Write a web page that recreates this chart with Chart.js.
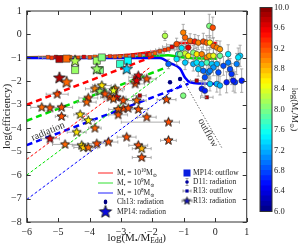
<!DOCTYPE html>
<html><head><meta charset="utf-8">
<script src="https://cdn.jsdelivr.net/npm/chart.js@4"></script>
<style>
html,body{margin:0;padding:0;background:#fff;}
#wrap{position:relative;width:299px;height:249px;overflow:hidden;}
#main{position:absolute;left:0;top:0;}
#cbar{position:absolute;left:250px;top:0;}
</style></head><body>
<div id="wrap"><canvas id="main" width="299" height="249"></canvas><canvas id="cbar" width="49" height="249"></canvas></div>
<script>
// ---------- tick labels ----------
const xTicks = [-6,-5,-4,-3,-2,-1,0,1];
const yTicks = [1,0,-1,-2,-3,-4,-5,-6,-7,-8];
const cbTicks = [6.0,6.4,6.8,7.2,7.6,8.0,8.4,8.8,9.2,9.6,10.0];

// ---------- model curves ----------
const red10_x = [-6,-3.67,-2.4,-1.55,-1.28,-1.18,0.06];
const red10_y = [-0.97,-0.94,-0.81,-0.63,-0.49,-0.37,-0.37];
const green9_x = [-6,-2.5,-2.0,-1.5,-1.2,-0.8,0.06];
const green9_y = [-0.99,-0.97,-0.92,-0.89,-0.95,-1.0,-1.04];
const blue8_x = [-6,-1.76,-1.44,-1.12,-0.96,-0.8,-0.48,0.06];
const blue8_y = [-1.0,-1.0,-1.22,-1.46,-1.85,-2.04,-2.09,-2.1];
const redThick_x = [-6,-1.9];   const redThick_y = [-3.0,-0.9];
const greenThick_x = [-6,-1.6]; const greenThick_y = [-3.68,-1.43];
const blueThick_x = [-6,-0.85]; const blueThick_y = [-4.72,-2.1];
const redThin_x = [-6,-2.1];    const redThin_y = [-5.33,-1.43];
const greenThin_x = [-6,-1.6];  const greenThin_y = [-6.0,-1.6];
const blueThin_x = [-6,-1.1];   const blueThin_y = [-7.04,-2.14];
const outflow_x = [-1.0,0.22];  const outflow_y = [-2.0,-4.86];

// ---------- R13 radiation (stars, x errors) ----------
const r13r_x = [-5.03,-5.52,-5.26,-4.89,-4.89,-4.30,-4.04,-3.83,-3.83,-3.61,-3.67,-4.04,-4.09,-3.35,-3.19,-3.14,-2.93,-2.55,-2.18,-2.45,-2.93,-2.50,-2.77,-2.45,-3.09,-3.09,-2.18,-1.49,-1.55,-5.26,-4.78,-4.41,-4.25,-4.20,-4.04,-3.77,-3.40,-2.45,-2.34,-2.34,-1.49,-2.82,-3.51,-3.24,-3.24,-2.50];
const r13r_y = [-2.55,-3.11,-3.13,-3.11,-3.50,-3.42,-3.67,-4.00,-2.32,-2.18,-2.43,-2.71,-2.89,-2.68,-2.32,-2.68,-2.82,-2.11,-1.90,-1.76,-3.17,-2.82,-3.15,-3.20,-3.20,-3.43,-3.53,-3.74,-2.78,-4.45,-4.69,-4.17,-4.73,-4.82,-4.83,-4.66,-4.59,-4.73,-4.87,-5.25,-4.52,-4.38,-2.54,-2.40,-2.75,-1.97];
const r13r_m = [9.2,9.1,9.2,9.2,9.2,8.6,8.5,9.1,9.0,8.6,8.1,9.2,9.1,9.2,9.1,9.5,9.2,9.2,9.2,9.5,9.2,9.1,9.2,9.2,9.1,9.2,9.2,9.2,9.2,9.6,9.1,8.6,8.6,8.7,9.1,9.2,9.2,9.2,8.8,9.2,9.2,9.2,9.2,8.4,9.1,9.6];
const r13r_elo = [0.35,0.35,0.3,0.35,0.2,0.2,0.2,0.2,0.3,0.3,0.3,0.3,0.3,0.3,0.3,0.3,0.3,0.3,0.3,0.2,0.3,0.3,0.3,0.3,0.3,0.3,0.3,1.5,0.3,0.3,0.4,0.3,0.3,0.3,0.3,0.3,0.3,0.3,0.3,0.3,0.25,0.3,0.3,0.3,0.3,0.25];
const r13r_ehi = [0.35,0.35,0.3,0.35,0.2,0.2,0.2,0.2,0.3,0.3,0.3,0.3,0.3,0.3,0.3,0.3,0.3,0.3,0.3,0.2,0.3,0.3,0.3,0.3,0.3,0.3,0.3,0.35,0.3,0.3,0.4,0.3,0.3,0.3,0.3,0.3,0.3,0.3,0.3,0.3,0.25,0.3,0.3,0.3,0.3,0.25];

// ---------- MP14 radiation (big stars) ----------
const mp14r_x = [-4.96,-4.73,-4.46,-3.77,-2.82];
const mp14r_y = [-1.86,-2.04,-1.14,-1.48,-1.48];
const mp14r_m = [9.8,9.1,8.2,8.1,7.3];

// ---------- MP14 outflow (squares) ----------
const mp14o_x = [-4.96,-4.73,-4.46,-3.77,-3.61,-3.67,-3.03,-2.78];
const mp14o_y = [-1.05,-1.03,-1.52,-1.12,-0.98,-1.52,-1.26,-1.12];
const mp14o_m = [9.8,9.1,8.1,8.1,8.0,8.0,7.7,7.5];

// ---------- R13 outflow (small squares, x errors) ----------
const r13o_x = [-5.32,-5.20,-5.07,-4.88,-4.62,-4.37,-4.18,-3.99,-3.83,-3.54,-3.35,-3.19,-3.03,-2.84,-2.62,-2.40,-2.17,-2.08,-1.92,-1.76,-1.60,-1.49,-1.38,-1.25,-2.55,-2.40,-0.59,-0.27];
const r13o_y = [-0.97,-1.0,-0.96,-0.99,-0.97,-1.0,-0.96,-0.98,-0.95,-0.97,-0.93,-0.95,-0.94,-0.92,-0.9,-0.88,-0.86,-0.85,-0.8,-0.72,-0.66,-0.62,-0.53,-0.44,-1.83,-2.61,-1.97,-2.68];
const r13o_m = [9.2,9.3,9.6,9.2,9.1,9.2,9.6,9.2,9.1,9.2,9.3,9.2,9.1,9.2,9.3,9.2,9.6,9.2,9.1,9.2,9.3,9.2,9.6,9.2,9.8,9.8,9.8,9.8];
const r13o_e = [0.3,0.3,0.3,0.3,0.3,0.3,0.3,0.3,0.3,0.3,0.3,0.3,0.3,0.3,0.3,0.3,0.3,0.3,0.3,0.3,0.3,0.3,0.3,0.3,0.2,0.2,0.2,0.2];

// ---------- D11 radiation (circles, y errors) ----------
const d11_x = [-0.19,-0.08,-0.96,-1.23,-0.80,-0.65,-0.54,-0.38,-0.27,-0.17,-0.06,0.05,0.15,-1.18,-0.96,-0.86,-0.70,-0.59,-0.43,-0.27,-0.19,-0.06,0.15,0.41,0.79,-0.96,-0.70,-0.59,-0.43,-0.27,-0.11,0.05,0.26,0.47,0.68,-0.54,-0.38,-0.22,-0.06,0.10,0.52,0.63,0.84,-0.33,0.05,0.15,-1.07,-1.02,-1.60,0.73,0.41,0.36,0.57,-0.43,-0.33,-0.17,-1.49,-1.23,-1.12,-0.17,-1.02,-0.86];
const d11_y = [0.36,0.29,-0.13,-0.41,-0.27,-0.30,-0.35,-0.30,-0.35,-0.35,-0.49,-0.56,-0.63,-0.84,-0.81,-0.91,-0.77,-0.84,-0.84,-0.98,-0.91,-0.91,-0.91,-0.84,-0.91,-1.20,-1.26,-1.20,-1.26,-1.20,-1.26,-1.26,-1.34,-1.48,-1.26,-1.48,-1.55,-1.62,-1.41,-1.62,-1.69,-2.04,-1.97,-1.83,-2.11,-2.18,-0.58,0.08,-0.06,-0.98,-1.20,-2.04,-1.97,-2.32,-2.40,-2.11,-1.26,-1.05,-0.84,-1.55,-2.61,-0.56];
const d11_m = [8.0,9.2,9.1,9.2,9.1,9.4,9.0,9.2,9.1,8.5,9.1,9.0,8.9,7.6,8.3,8.5,8.0,8.6,9.0,9.0,8.8,8.4,7.9,7.4,7.3,7.3,7.2,7.4,7.3,7.8,7.3,7.2,6.8,6.8,7.0,7.3,6.9,7.0,7.1,6.8,6.7,6.7,6.6,6.8,7.2,7.2,7.4,9.0,8.2,7.4,7.0,6.6,6.6,6.6,6.6,7.3,6.9,7.4,8.0,7.0,8.0,9.6];
const d11_e = [0.5,0.45,0.3,0.25,0.3,0.3,0.3,0.35,0.3,0.3,0.35,0.3,0.35,0.3,0.3,0.3,0.3,0.3,0.3,0.3,0.35,0.35,0.4,0.4,0.45,0.3,0.3,0.3,0.35,0.3,0.35,0.35,0.4,0.45,0.45,0.3,0.35,0.35,0.35,0.4,0.45,0.45,0.5,0.3,0.35,0.4,0.25,0.35,0.2,0.4,0.4,0.45,0.45,0.3,0.3,0.3,0.2,0.25,0.25,0.35,0.1,0.3];

// ---------- Ch13 radiation ----------
const ch13_x = [-1.44,-1.12];
const ch13_y = [-2.04,-1.90];

// ================= helpers =================
const FONT = '"Liberation Serif","DejaVu Serif",serif';
function jet(v){
  const t = Math.min(1, Math.max(0, (v-6)/4));
  const f = a => Math.round(255*Math.min(1, Math.max(0, 1.5-Math.abs(4*t-a))));
  return `rgb(${f(3)},${f(2)},${f(1)})`;
}
function pts(xs, ys){ return xs.map((x,i)=>({x, y: ys[i]})); }
const starCache = {};
function starImg(color, R){
  const key = color+'_'+R;
  if (starCache[key]) return starCache[key];
  const s = Math.ceil(R*2+3);
  const c = document.createElement('canvas'); c.width = c.height = s;
  const g = c.getContext('2d');
  const cx = s/2, cy = s/2, r = R*0.42;
  g.beginPath();
  for (let k=0;k<10;k++){
    const a = -Math.PI/2 + k*Math.PI/5, rr = (k%2) ? r : R;
    g.lineTo(cx+rr*Math.cos(a), cy+rr*Math.sin(a));
  }
  g.closePath(); g.fillStyle = color; g.fill();
  g.lineWidth = 0.9; g.strokeStyle = '#1a1a1a'; g.stroke();
  starCache[key] = c; return c;
}
function rich(ctx, parts, x, y, size, align, color){
  const seg = parts.map(([t,k]) => {
    const fs = k ? size*0.68 : size;
    ctx.font = `${fs}px ${FONT}`;
    return {t, k, fs, w: ctx.measureText(t).width};
  });
  const W = seg.reduce((a,s)=>a+s.w, 0);
  let cx = align==='center' ? x-W/2 : (align==='right' ? x-W : x);
  ctx.textBaseline = 'middle'; ctx.textAlign = 'left'; ctx.fillStyle = color || '#222';
  seg.forEach(s => {
    ctx.font = `${s.fs}px ${FONT}`;
    const dy = s.k==='sub' ? size*0.3 : (s.k==='sup' ? -size*0.32 : 0);
    ctx.fillText(s.t, cx, y+dy);
    cx += s.w;
  });
}
const fmt = v => v < 0 ? '\u2212' + Math.abs(v) : '' + v;

function lineDS(xs, ys, color, width, dash, order, smooth){
  return {type:'scatter', data: pts(xs, ys), showLine:true, borderColor:color, borderWidth:width,
    borderDash: dash, pointRadius:0, fill:false, order,
    tension: smooth ? 0.4 : 0, cubicInterpolationMode: smooth ? 'monotone' : 'default'};
}

// ================= plugins =================
const errorBars = {
  id:'errorBars',
  beforeDatasetDraw(chart, args){
    const ds = chart.data.datasets[args.index];
    if (!ds.err) return;
    const {ctx, chartArea:a, scales:{x, y}} = chart;
    ctx.save();
    ctx.beginPath(); ctx.rect(a.left, a.top, a.right-a.left, a.bottom-a.top); ctx.clip();
    ctx.strokeStyle = '#999'; ctx.lineWidth = 0.8;
    const cap = 1.6;
    ds.data.forEach((p,i) => {
      const px = x.getPixelForValue(p.x), py = y.getPixelForValue(p.y);
      ctx.beginPath();
      if (ds.err.dir === 'x'){
        const x0 = x.getPixelForValue(p.x - ds.err.lo[i]), x1 = x.getPixelForValue(p.x + ds.err.hi[i]);
        ctx.moveTo(x0, py); ctx.lineTo(x1, py);
        ctx.moveTo(x0, py-cap); ctx.lineTo(x0, py+cap);
        ctx.moveTo(x1, py-cap); ctx.lineTo(x1, py+cap);
      } else {
        const y0 = y.getPixelForValue(p.y - ds.err.lo[i]), y1 = y.getPixelForValue(p.y + ds.err.hi[i]);
        ctx.moveTo(px, y0); ctx.lineTo(px, y1);
        ctx.moveTo(px-cap, y0); ctx.lineTo(px+cap, y0);
        ctx.moveTo(px-cap, y1); ctx.lineTo(px+cap, y1);
      }
      ctx.stroke();
    });
    ctx.restore();
  }
};

const decor = {
  id:'decor',
  afterDraw(chart){
    const {ctx, chartArea:a, scales:{x, y}} = chart;
    ctx.save();
    // annotations
    ctx.fillStyle = '#333'; ctx.font = `10px ${FONT}`; ctx.textAlign = 'center'; ctx.textBaseline = 'middle';
    ctx.save(); ctx.translate(x.getPixelForValue(-5.32), y.getPixelForValue(-4.14)); ctx.rotate(-23*Math.PI/180);
    ctx.fillText('radiation', 0, 0); ctx.restore();
    ctx.save(); ctx.translate(x.getPixelForValue(-0.24), y.getPixelForValue(-4.2)); ctx.rotate(61*Math.PI/180);
    ctx.fillText('outflow', 0, 0); ctx.restore();

    // frame + inward ticks
    ctx.strokeStyle = '#333'; ctx.lineWidth = 1;
    ctx.strokeRect(a.left, a.top, a.right-a.left, a.bottom-a.top);
    ctx.beginPath();
    xTicks.forEach(v => { const p = Math.round(x.getPixelForValue(v))+0.5;
      ctx.moveTo(p, a.bottom); ctx.lineTo(p, a.bottom-4); ctx.moveTo(p, a.top); ctx.lineTo(p, a.top+4); });
    yTicks.forEach(v => { const p = Math.round(y.getPixelForValue(v))+0.5;
      ctx.moveTo(a.left, p); ctx.lineTo(a.left+4, p); ctx.moveTo(a.right, p); ctx.lineTo(a.right-4, p); });
    ctx.stroke();

    // axis titles
    rich(ctx, [['log(\u1E40',''],['\u2022','sub'],['/\u1E40',''],['Edd','sub'],[')','']], (a.left+a.right)/2, 238, 11, 'center');
    ctx.save(); ctx.translate(7, (a.top+a.bottom)/2); ctx.rotate(-Math.PI/2);
    rich(ctx, [['log(efficiency)','']], 0, 0, 11, 'center'); ctx.restore();

    // legend
    const Lx0 = 98, Lx1 = 113, Ltx = 117, Rsx = 187, Rtx = 193, fs = 7.5;
    const rowsL = [173, 183, 193, 202, 212];
    const rowsR = [173, 182, 191, 201];
    const lcols = ['#ff2020','#30e030','#2020ff'];
    const exps = ['10','9','8'];
    for (let i=0;i<3;i++){
      ctx.strokeStyle = lcols[i]; ctx.lineWidth = 1; ctx.setLineDash([]);
      ctx.beginPath(); ctx.moveTo(Lx0, rowsL[i]); ctx.lineTo(Lx1, rowsL[i]); ctx.stroke();
      rich(ctx, [['M',''],['\u2022','sub'],[' = 10',''],[exps[i],'sup'],['M',''],['\u2299','sub']], Ltx, rowsL[i], fs, 'left');
    }
    const lc = (Lx0+Lx1)/2;
    ctx.fillStyle = '#000080'; ctx.beginPath(); ctx.ellipse(lc, rowsL[3], 1.8, 2.4, 0, 0, 2*Math.PI); ctx.fill();
    rich(ctx, [['Ch13: radiation','']], Ltx, rowsL[3], fs, 'left');
    const bs = starImg('#0a0adc', 6.5); ctx.drawImage(bs, lc-bs.width/2, rowsL[4]-bs.height/2);
    rich(ctx, [['MP14: radiation','']], Ltx, rowsL[4], fs, 'left');

    ctx.fillStyle = '#0a1ee0'; ctx.fillRect(Rsx-3.5, rowsR[0]-3.5, 7, 7);
    rich(ctx, [['MP14: outflow','']], Rtx, rowsR[0], fs, 'left');
    ctx.strokeStyle = '#888'; ctx.lineWidth = 0.8;
    ctx.beginPath(); ctx.moveTo(Rsx, rowsR[1]-3.5); ctx.lineTo(Rsx, rowsR[1]+3.5);
    ctx.moveTo(Rsx-1.5, rowsR[1]-3.5); ctx.lineTo(Rsx+1.5, rowsR[1]-3.5);
    ctx.moveTo(Rsx-1.5, rowsR[1]+3.5); ctx.lineTo(Rsx+1.5, rowsR[1]+3.5); ctx.stroke();
    ctx.fillStyle = '#0000a0'; ctx.beginPath(); ctx.arc(Rsx, rowsR[1], 1.8, 0, 2*Math.PI); ctx.fill();
    rich(ctx, [['D11: radiation','']], Rtx, rowsR[1], fs, 'left');
    ctx.beginPath(); ctx.moveTo(Rsx-4, rowsR[2]); ctx.lineTo(Rsx+4, rowsR[2]);
    ctx.moveTo(Rsx-4, rowsR[2]-1.5); ctx.lineTo(Rsx-4, rowsR[2]+1.5);
    ctx.moveTo(Rsx+4, rowsR[2]-1.5); ctx.lineTo(Rsx+4, rowsR[2]+1.5); ctx.stroke();
    ctx.fillStyle = '#0000a0'; ctx.fillRect(Rsx-1.6, rowsR[2]-1.6, 3.2, 3.2);
    rich(ctx, [['R13: outflow','']], Rtx, rowsR[2], fs, 'left');
    ctx.beginPath(); ctx.moveTo(Rsx-5, rowsR[3]); ctx.lineTo(Rsx+5, rowsR[3]);
    ctx.moveTo(Rsx-5, rowsR[3]-1.5); ctx.lineTo(Rsx-5, rowsR[3]+1.5);
    ctx.moveTo(Rsx+5, rowsR[3]-1.5); ctx.lineTo(Rsx+5, rowsR[3]+1.5); ctx.stroke();
    const ss = starImg('#1010c0', 4); ctx.drawImage(ss, Rsx-ss.width/2, rowsR[3]-ss.height/2);
    rich(ctx, [['R13: radiation','']], Rtx, rowsR[3], fs, 'left');
    ctx.restore();
  }
};

// ================= main chart =================
const datasets = [
  {data: pts(ch13_x, ch13_y), backgroundColor:'#000080', borderWidth:0, pointRadius:2.2, order:0},
  {data: pts(mp14r_x, mp14r_y), pointStyle: mp14r_m.map(m=>starImg(jet(m), 6.2)), pointRadius:5, order:1},
  {data: pts(r13r_x, r13r_y), pointStyle: r13r_m.map(m=>starImg(jet(m), 4.8)), pointRadius:4, order:2,
    err:{dir:'x', lo:r13r_elo, hi:r13r_ehi}},
  {data: pts(d11_x, d11_y), pointStyle:'circle', backgroundColor: d11_m.map(jet), borderColor:'#333', borderWidth:0.6, pointRadius:2.8, order:3,
    err:{dir:'y', lo:d11_e, hi:d11_e}},
  {data: pts(mp14o_x, mp14o_y), pointStyle:'rect', backgroundColor: mp14o_m.map(jet), borderColor:'#333', borderWidth:0.6, pointRadius:5, order:4},
  {data: pts(r13o_x, r13o_y), pointStyle:'rect', backgroundColor: r13o_m.map(jet), borderColor:'#333', borderWidth:0.4, pointRadius:2.6, order:5,
    err:{dir:'x', lo:r13o_e, hi:r13o_e}},
  lineDS(outflow_x, outflow_y, '#555', 1, [1.2,1.8], 14, false),
  lineDS(redThin_x, redThin_y, '#ff0000', 1, [3,2], 15, false),
  lineDS(greenThin_x, greenThin_y, '#00e000', 1, [3,2], 16, false),
  lineDS(blueThin_x, blueThin_y, '#0000ff', 1, [3,2], 17, false),
  lineDS(redThick_x, redThick_y, '#ff0000', 2.5, [6,4], 18, false),
  lineDS(greenThick_x, greenThick_y, '#00e000', 2.5, [6,4], 19, false),
  lineDS(blueThick_x, blueThick_y, '#0000ff', 2.5, [6,4], 20, false),
  lineDS(blue8_x, blue8_y, '#0000ff', 2.5, [], 21, true),
  lineDS(green9_x, green9_y, '#00e000', 2.5, [], 22, true),
  lineDS(red10_x, red10_y, '#ff0000', 2.5, [], 23, true)
];

new Chart(document.getElementById('main'), {
  type:'scatter',
  data:{datasets},
  options:{
    responsive:false, animation:false, events:[], devicePixelRatio:1,
    layout:{padding:{left:0, top:10, right:52.3, bottom:0}},
    plugins:{legend:{display:false}, tooltip:{enabled:false}},
    scales:{
      x:{type:'linear', min:-6, max:1,
        afterBuildTicks: s => { s.ticks = xTicks.map(v=>({value:v})); },
        afterFit: s => { s.height = 27; },
        grid:{display:false, drawTicks:false}, border:{display:false},
        ticks:{font:{family:FONT, size:10}, color:'#222', padding:4, callback: v => fmt(v), maxRotation:0, autoSkip:false}},
      y:{type:'linear', min:-8, max:1,
        afterBuildTicks: s => { s.ticks = yTicks.map(v=>({value:v})); },
        afterFit: s => { s.width = 26.7; },
        grid:{display:false, drawTicks:false}, border:{display:false},
        ticks:{font:{family:FONT, size:10}, color:'#222', padding:5, callback: v => fmt(v), autoSkip:false}}
    }
  },
  plugins:[errorBars, decor]
});

// ================= colour bar =================
const cbBands = [];
for (let v = 60; v < 100; v++) cbBands.push(v/10);
const cbFrame = {
  id:'cbFrame',
  afterDraw(chart){
    const {ctx, chartArea:a} = chart;
    ctx.save(); ctx.strokeStyle = '#333'; ctx.lineWidth = 1;
    ctx.strokeRect(a.left, a.top, a.right-a.left, a.bottom-a.top);
    ctx.translate(44, (a.top+a.bottom)/2); ctx.rotate(Math.PI/2);
    rich(ctx, [['log(M',''],['\u2022','sub'],['/M',''],['\u2299','sub'],[')','']], 0, 0, 9, 'center');
    ctx.restore();
  }
};
new Chart(document.getElementById('cbar'), {
  type:'bar',
  data:{labels:[''], datasets: cbBands.map(b => ({data:[[b, b+0.105]], backgroundColor: jet(b+0.05),
    borderWidth:0, barPercentage:1, categoryPercentage:1, grouped:false}))},
  options:{
    responsive:false, animation:false, events:[], devicePixelRatio:1,
    layout:{padding:{left:10, top:7.5, right:0, bottom:37.5}},
    plugins:{legend:{display:false}, tooltip:{enabled:false}},
    scales:{
      x:{display:false},
      y:{position:'right', min:6, max:10,
        afterBuildTicks: s => { s.ticks = cbTicks.map(v=>({value:v})); },
        afterFit: s => { s.width = 27; },
        grid:{display:false, drawTicks:false}, border:{display:false},
        ticks:{font:{family:FONT, size:8.5}, color:'#222', padding:2, callback: v => Number(v).toFixed(1), autoSkip:false}}
    }
  },
  plugins:[cbFrame]
});
</script>
</body></html>
